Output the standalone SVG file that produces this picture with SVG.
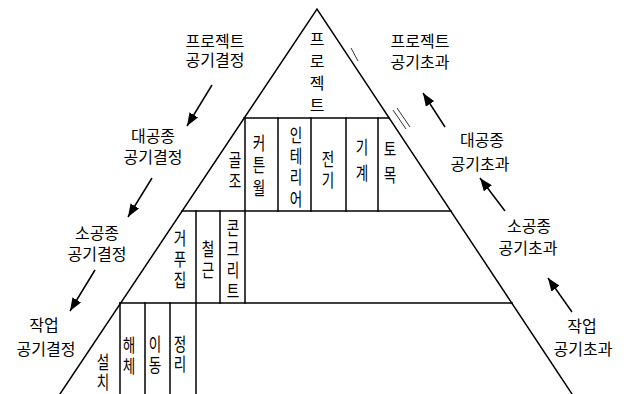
<svg xmlns="http://www.w3.org/2000/svg" width="629" height="394" viewBox="0 0 629 394">
<style>
.ln{stroke:#000;stroke-width:1.5;fill:none;stroke-linecap:square}
.ar{stroke:#000;stroke-width:1.5;fill:none;marker-end:url(#ah)}
.t{font-family:"Noto Sans CJK KR","Noto Sans",sans-serif;font-size:16px;fill:#000;text-anchor:middle}
.v{font-family:"Noto Sans CJK KR","Noto Sans",sans-serif;font-size:16px;fill:#000;text-anchor:middle}
.noise{stroke:#000;stroke-width:0.8;fill:none}
</style>
<defs>
<marker id="ah" markerUnits="userSpaceOnUse" markerWidth="14" markerHeight="10" refX="13" refY="5" orient="auto">
<path d="M0,0 L13,5 L0,10 z" fill="#000"/>
</marker>
</defs>
<g id="pyramid">
<path class="ln" d="M60,394 L317,9 L572,394"/>
<line class="ln" x1="244" y1="118" x2="389" y2="118"/>
<line class="ln" x1="182" y1="211" x2="451" y2="211"/>
<line class="ln" x1="120" y1="303" x2="512" y2="303"/>
<line class="ln" x1="245" y1="118" x2="245" y2="303"/>
<line class="ln" x1="278" y1="118" x2="278" y2="211"/>
<line class="ln" x1="311" y1="118" x2="311" y2="211"/>
<line class="ln" x1="346" y1="118" x2="346" y2="211"/>
<line class="ln" x1="378" y1="118" x2="378" y2="211"/>
<line class="ln" x1="196" y1="211" x2="196" y2="394"/>
<line class="ln" x1="220" y1="211" x2="220" y2="303"/>
<line class="ln" x1="120" y1="303" x2="120" y2="394"/>
<line class="ln" x1="145" y1="303" x2="145" y2="394"/>
<line class="ln" x1="170" y1="303" x2="170" y2="394"/>
<line class="noise" x1="351" y1="48" x2="358" y2="61"/>
<line class="noise" x1="393" y1="110" x2="406" y2="129"/>
<line class="noise" x1="397" y1="108" x2="410" y2="127"/>
</g>
<g id="node-project">
<text class="t"><tspan x="317" y="45">프</tspan><tspan x="317" y="67">로</tspan><tspan x="317" y="89">젝</tspan><tspan x="317" y="111">트</tspan></text>
</g>
<g id="node-goljo">
<text class="v" transform="translate(235 0) scale(0.85 1.15)"><tspan x="0" y="145.2">골</tspan><tspan x="0" y="163.5">조</tspan></text>
</g>
<g id="node-curtainwall">
<text class="v" transform="translate(259 0) scale(0.85 1.15)"><tspan x="0" y="130.4">커</tspan><tspan x="0" y="149.6">튼</tspan><tspan x="0" y="169.6">월</tspan></text>
</g>
<g id="node-interior">
<text class="v" transform="translate(296 0) scale(0.85 1.15)"><tspan x="0" y="123.5">인</tspan><tspan x="0" y="141.7">테</tspan><tspan x="0" y="160">리</tspan><tspan x="0" y="179.1">어</tspan></text>
</g>
<g id="node-electric">
<text class="v" transform="translate(328 0) scale(0.85 1.15)"><tspan x="0" y="144.3">전</tspan><tspan x="0" y="162.6">기</tspan></text>
</g>
<g id="node-mechanical">
<text class="v" transform="translate(362 0) scale(0.85 1.15)"><tspan x="0" y="133.9">기</tspan><tspan x="0" y="156.5">계</tspan></text>
</g>
<g id="node-civil">
<text class="v" transform="translate(390 0) scale(0.85 1.15)"><tspan x="0" y="135.7">토</tspan><tspan x="0" y="158.3">목</tspan></text>
</g>
<g id="node-formwork">
<text class="v" transform="translate(180 0) scale(0.85 1.15)"><tspan x="0" y="213">거</tspan><tspan x="0" y="231.3">푸</tspan><tspan x="0" y="249.6">집</tspan></text>
</g>
<g id="node-rebar">
<text class="v" transform="translate(208 0) scale(0.85 1.15)"><tspan x="0" y="222.6">철</tspan><tspan x="0" y="240.9">근</tspan></text>
</g>
<g id="node-concrete">
<text class="v" transform="translate(233 0) scale(0.85 1.15)"><tspan x="0" y="204.3">콘</tspan><tspan x="0" y="222.6">크</tspan><tspan x="0" y="240.9">리</tspan><tspan x="0" y="259.1">트</tspan></text>
</g>
<g id="node-install">
<text class="v" transform="translate(103 0) scale(0.85 1.15)"><tspan x="0" y="320.9">설</tspan><tspan x="0" y="338.3">치</tspan></text>
</g>
<g id="node-dismantle">
<text class="v" transform="translate(129 0) scale(0.85 1.15)"><tspan x="0" y="306.1">해</tspan><tspan x="0" y="324.3">체</tspan></text>
</g>
<g id="node-move">
<text class="v" transform="translate(155 0) scale(0.85 1.15)"><tspan x="0" y="305.2">이</tspan><tspan x="0" y="323.5">동</tspan></text>
</g>
<g id="node-cleanup">
<text class="v" transform="translate(180 0) scale(0.85 1.15)"><tspan x="0" y="305.2">정</tspan><tspan x="0" y="322.6">리</tspan></text>
</g>
<g id="label-left-project">
<text class="t"><tspan x="215" y="47">프로젝트</tspan><tspan x="215" y="66">공기결정</tspan></text>
</g>
<g id="label-left-major">
<text class="t"><tspan x="153" y="142">대공종</tspan><tspan x="153" y="163">공기결정</tspan></text>
</g>
<g id="label-left-minor">
<text class="t"><tspan x="97" y="239">소공종</tspan><tspan x="97" y="260">공기결정</tspan></text>
</g>
<g id="label-left-task">
<text class="t"><tspan x="44" y="331">작업</tspan><tspan x="46" y="355">공기결정</tspan></text>
</g>
<g id="label-right-project">
<text class="t"><tspan x="420" y="47">프로젝트</tspan><tspan x="420" y="68">공기초과</tspan></text>
</g>
<g id="label-right-major">
<text class="t"><tspan x="482" y="146">대공종</tspan><tspan x="480" y="170">공기초과</tspan></text>
</g>
<g id="label-right-minor">
<text class="t"><tspan x="529" y="232">소공종</tspan><tspan x="528" y="254">공기초과</tspan></text>
</g>
<g id="label-right-task">
<text class="t"><tspan x="582" y="332">작업</tspan><tspan x="583" y="355">공기초과</tspan></text>
</g>
<g id="connectors">
<line class="ar" x1="212" y1="85" x2="187" y2="126"/>
<line class="ar" x1="152" y1="178" x2="128" y2="217"/>
<line class="ar" x1="95" y1="270" x2="70" y2="311"/>
<line class="ar" x1="445" y1="127" x2="423" y2="93"/>
<line class="ar" x1="505" y1="211" x2="480" y2="178"/>
<line class="ar" x1="572" y1="312" x2="548" y2="278"/>
</g>
</svg>
